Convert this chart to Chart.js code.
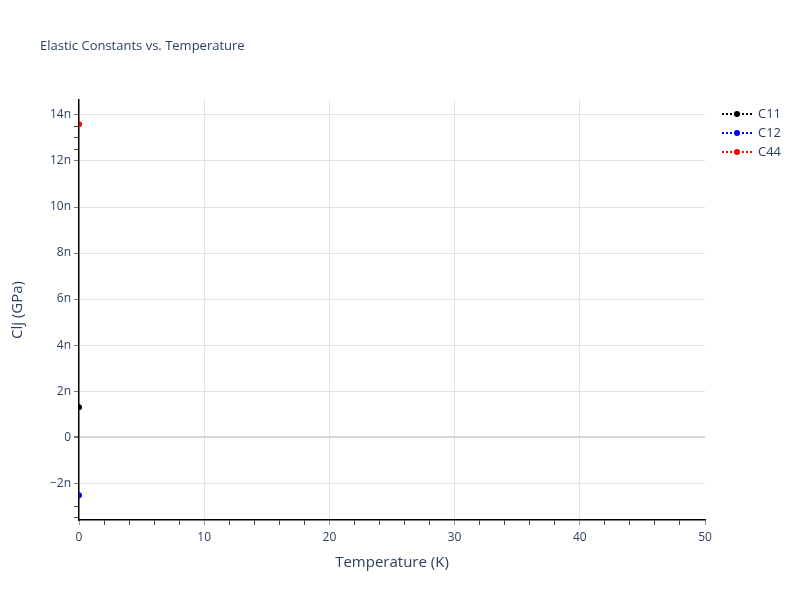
<!DOCTYPE html>
<html>
<head>
<meta charset="utf-8">
<script src="https://cdn.jsdelivr.net/npm/chart.js@4/dist/chart.umd.min.js"></script>
<style>
  html, body { margin: 0; padding: 0; background: #fff; }
  #wrap { position: relative; width: 800px; height: 600px; }
</style>
</head>
<body>
<div id="wrap"><canvas id="myChart" width="800" height="600"></canvas></div>
<script>
// data (values in GPa)
const temperature = [0];
const c11 = [1.3e-9];
const c12 = [-2.52e-9];
const c44 = [13.6e-9];

const seriesNames = ['C11', 'C12', 'C44'];
const seriesColors = ['#000000', '#0000ff', '#ff0000'];

const xMajorTicks = [0, 10, 20, 30, 40, 50];
const yMajorTicks = [-2, 0, 2, 4, 6, 8, 10, 12, 14]; // in n (1e-9)
const yMinorTicks = [-3.5, -3, 12.5, 13, 13.5];

const txtColor = '#2a3f5f';
const fontFam = '"Open Sans", "Noto Sans", sans-serif';
const N = 1e-9;

const isMajorY = v => yMajorTicks.some(t => Math.abs(t * N - v) < 1e-13);
const isMajorX = v => xMajorTicks.includes(v);

function yLabel(v) {
    if (Math.abs(v) < 1e-13) return '0';
    const n = Math.round(v / N * 10) / 10;
    return (n < 0 ? '\u2212' + Math.abs(n) : n) + 'n';
}

// plotly-like legend on the right + title
const legendPlugin = {
    id: 'sideLegend',
    afterDraw(chart) {
        const ctx = chart.ctx;
        ctx.save();
        seriesNames.forEach((name, i) => {
            const y = 114 + i * 19;
            ctx.strokeStyle = seriesColors[i];
            ctx.lineWidth = 2;
            ctx.setLineDash([2, 2]);
            ctx.beginPath();
            ctx.moveTo(722, y);
            ctx.lineTo(752, y);
            ctx.stroke();
            ctx.setLineDash([]);
            ctx.fillStyle = seriesColors[i];
            ctx.beginPath();
            ctx.arc(737, y, 3, 0, Math.PI * 2);
            ctx.fill();
            ctx.fillStyle = txtColor;
            ctx.font = '13px ' + fontFam;
            ctx.textBaseline = 'middle';
            ctx.fillText(name, 758, y);
        });
        ctx.font = '13px ' + fontFam;
        ctx.fillStyle = txtColor;
        ctx.textBaseline = 'middle';
        ctx.fillText('Elastic Constants vs. Temperature', 40, 46);
        ctx.restore();
    }
};

const mkSet = (i, vals) => ({
    label: seriesNames[i],
    data: temperature.map((t, k) => ({ x: t, y: vals[k] })),
    borderColor: seriesColors[i],
    backgroundColor: seriesColors[i],
    showLine: true,
    borderDash: [2, 2],
    borderWidth: 2,
    pointRadius: 3,
    pointBorderWidth: 0,
    clip: 0
});

new Chart(document.getElementById('myChart'), {
    type: 'scatter',
    data: {
        datasets: [mkSet(0, c11), mkSet(1, c12), mkSet(2, c44)]
    },
    options: {
        responsive: false,
        animation: false,
        layout: { padding: { left: 0, top: 100, right: 95, bottom: 0 } },
        plugins: {
            legend: { display: false },
            tooltip: { enabled: false }
        },
        scales: {
            x: {
                type: 'linear',
                min: 0,
                max: 50,
                afterFit: s => { s.height = 80; },
                ticks: {
                    stepSize: 2,
                    autoSkip: false,
                    maxRotation: 0,
                    color: txtColor,
                    font: { size: 12, family: fontFam },
                    padding: 5,
                    callback: v => isMajorX(v) ? String(v) : ''
                },
                grid: {
                    color: c => (c.tick && c.tick.value % 10 === 0 && c.tick.value > 0 && c.tick.value < 50) ? '#e2e2e2' : 'rgba(0,0,0,0)',
                    lineWidth: 1,
                    tickLength: 5,
                    tickColor: c => (c.tick && isMajorX(c.tick.value)) ? '#999999' : '#444444',
                    drawOnChartArea: true
                },
                border: { display: true, color: '#000', width: 1.5 },
                title: {
                    display: true,
                    text: 'Temperature (K)',
                    color: txtColor,
                    font: { size: 15, family: fontFam },
                    padding: { bottom: 28 }
                }
            },
            y: {
                type: 'linear',
                min: -3.6e-9,
                max: 14.65e-9,
                afterFit: s => { s.width = 79; },
                afterBuildTicks: s => {
                    const vals = yMajorTicks.concat(yMinorTicks).sort((a, b) => a - b);
                    s.ticks = vals.map(v => ({ value: v * N }));
                },
                ticks: {
                    autoSkip: false,
                    color: txtColor,
                    font: { size: 12, family: fontFam },
                    padding: 3,
                    callback: v => isMajorY(v) ? yLabel(v) : ''
                },
                grid: {
                    color: c => {
                        if (!c.tick) return 'rgba(0,0,0,0)';
                        if (Math.abs(c.tick.value) < 1e-13) return '#d6d6d6';
                        return isMajorY(c.tick.value) ? '#e2e2e2' : 'rgba(0,0,0,0)';
                    },
                    lineWidth: c => (c.tick && Math.abs(c.tick.value) < 1e-13) ? 2 : 1,
                    tickLength: 5,
                    tickColor: c => (c.tick && isMajorY(c.tick.value)) ? '#777777' : '#444444'
                },
                border: { display: true, color: '#000', width: 1.5 },
                title: {
                    display: true,
                    text: 'Clj (GPa)',
                    color: txtColor,
                    font: { size: 15, family: fontFam },
                    padding: { top: 9 }
                }
            }
        }
    },
    plugins: [legendPlugin]
});
</script>
</body>
</html>
